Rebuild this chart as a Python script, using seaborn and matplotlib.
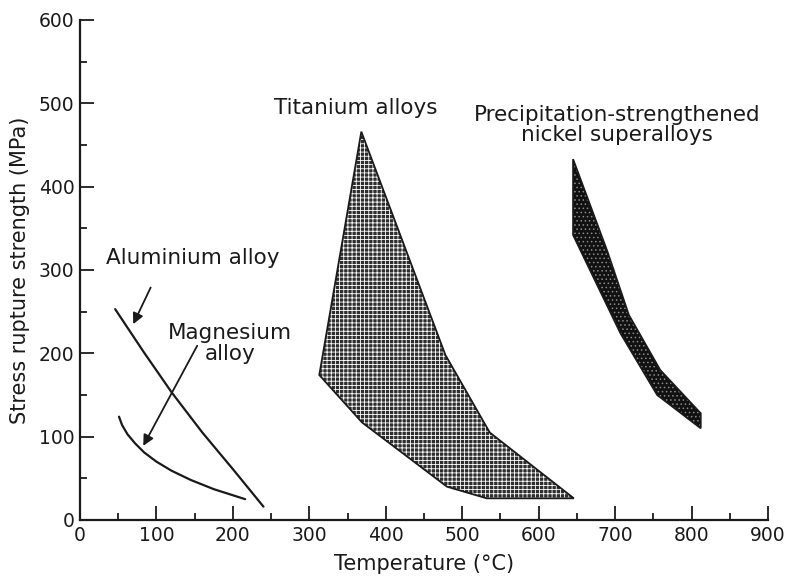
import matplotlib
matplotlib.use("Agg")
import matplotlib.pyplot as plt
import seaborn as sns
import pandas as pd

# ---- data ----
al_temp = [46, 83, 120, 160, 200, 240]
al_stress = [253, 202, 153, 105, 61, 16]

mg_temp = [51, 55, 62, 72, 84, 100, 120, 145, 175, 216]
mg_stress = [124, 114, 103, 92, 81, 70, 59, 48, 37, 25]

ti_temp = [368, 313, 369, 480, 532, 646, 536, 478]
ti_stress = [466, 174, 117, 40, 26, 26, 105, 198]

ni_temp = [645, 645, 707, 755, 812, 812, 759, 718, 690]
ni_stress = [433, 342, 224, 150, 110, 128, 180, 246, 322]

x_ticks = [0, 100, 200, 300, 400, 500, 600, 700, 800, 900]
y_ticks = [0, 100, 200, 300, 400, 500, 600]

sns.set_theme(style="ticks")
plt.rcParams["font.family"] = ["DejaVu Sans"]
plt.rcParams["hatch.linewidth"] = 0.6
ink = "#1a1a1a"

fig = plt.figure(figsize=(7.86, 5.79), dpi=100)
ax = fig.add_axes([0.1018, 0.1019, 0.8753, 0.8636])

al = pd.DataFrame({"T": al_temp, "S": al_stress})
mg = pd.DataFrame({"T": mg_temp, "S": mg_stress})
sns.lineplot(data=al, x="T", y="S", ax=ax, color=ink, lw=1.6, sort=False)
sns.lineplot(data=mg, x="T", y="S", ax=ax, color=ink, lw=1.6, sort=False)

# titanium band: dark squares on a white grid
ax.fill(ti_temp, ti_stress, facecolor="#2e2e2e", edgecolor="white",
        hatch="++++", lw=0)
ax.fill(ti_temp, ti_stress, facecolor="none", edgecolor=ink, lw=1.3)

# nickel band: black with grey dots
ax.fill(ni_temp, ni_stress, facecolor="#111111", edgecolor="#8a8a8a",
        hatch="....", lw=0)
ax.fill(ni_temp, ni_stress, facecolor="none", edgecolor=ink, lw=1.3)

fs = 15.5
ax.text(148, 314, "Aluminium alloy", ha="center", va="center", fontsize=fs, color=ink)
ax.annotate("", xy=(68, 232), xytext=(94, 282),
            arrowprops=dict(arrowstyle="-|>", color=ink, lw=1.3, mutation_scale=16))
ax.text(196, 212, "Magnesium\nalloy", ha="center", va="center", fontsize=fs,
        color=ink, linespacing=1.05)
ax.annotate("", xy=(81, 86), xytext=(155, 212),
            arrowprops=dict(arrowstyle="-|>", color=ink, lw=1.3, mutation_scale=16))
ax.text(361, 494, "Titanium alloys", ha="center", va="center", fontsize=fs, color=ink)
ax.text(703, 474, "Precipitation-strengthened\nnickel superalloys", ha="center",
        va="center", fontsize=fs, color=ink, linespacing=1.05)

ax.set_xlim(0, 900)
ax.set_ylim(0, 600)
ax.set_xticks(x_ticks)
ax.set_yticks(y_ticks)
ax.set_xticks(range(50, 900, 100), minor=True)
ax.set_yticks(range(50, 600, 100), minor=True)
ax.tick_params(which="major", direction="in", length=10, width=1.3, colors=ink,
               labelsize=13.5, pad=4)
ax.tick_params(which="minor", direction="in", length=5, width=1.3, colors=ink)
for s in ["top", "right"]:
    ax.spines[s].set_visible(False)
for s in ["left", "bottom"]:
    ax.spines[s].set_linewidth(1.6)
    ax.spines[s].set_color(ink)

ax.set_xlabel("Temperature (°C)", fontsize=15, color=ink, labelpad=7)
ax.set_ylabel("Stress rupture strength (MPa)", fontsize=15, color=ink, labelpad=6)

fig.savefig("out.png", dpi=100)
